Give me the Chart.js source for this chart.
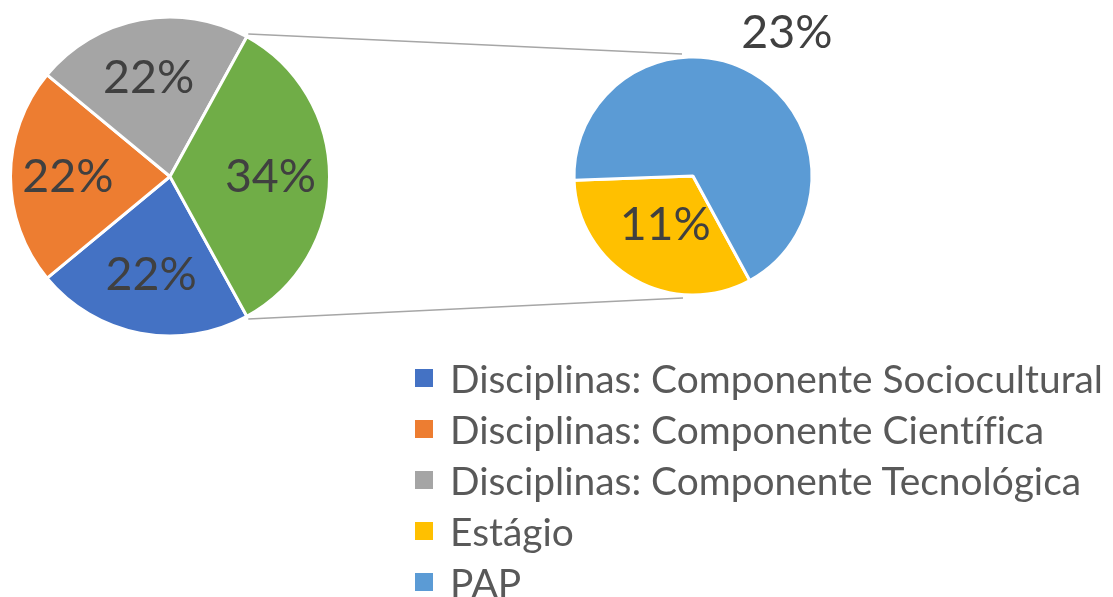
<!DOCTYPE html>
<html>
<head>
<meta charset="utf-8">
<script src="https://cdn.jsdelivr.net/npm/chart.js@4.4.1/dist/chart.umd.min.js"></script>
<style>
    html, body { margin: 0; padding: 0; background: #fff; }
    #wrap { position: relative; width: 1113px; height: 597px; overflow: hidden; }
    #mainCanvas { position: absolute; left: 0; top: 0; }
    #subCanvas { position: absolute; left: 543px; top: 0; }
    #legend {
        position: absolute; left: 415px; top: 352px;
        margin: 0; padding: 0; list-style: none;
        font-family: Lato, "Open Sans", sans-serif; font-size: 38.9px; color: #595959;
        font-variant-ligatures: none;
    }
    #legend li { height: 51px; display: flex; align-items: center; white-space: nowrap; }
    #legend .box { width: 18px; height: 18px; margin-right: 17px; flex: none; }
</style>
</head>
<body>
<div id="wrap">
    <canvas id="mainCanvas" width="1113" height="597"></canvas>
    <canvas id="subCanvas" width="300" height="352"></canvas>
    <ul id="legend"></ul>
</div>
<script>
// main pie: three subjects + the "other" slice that is split out
const mainLabels = ['Disciplinas: Componente Sociocultural', 'Disciplinas: Componente Científica', 'Disciplinas: Componente Tecnológica', 'Outros'];
const mainValues = [22, 22, 22, 34];
const mainColors = ['#4472C4', '#ED7D31', '#A5A5A5', '#70AD47'];

// second pie: breakdown of the "other" slice
const subLabels = ['Estágio', 'PAP'];
const subValues = [11, 23];
const subColors = ['#FFC000', '#5B9BD5'];

const labelFont = '46.5px Lato, "Open Sans", sans-serif';

// draws the "NN%" labels at a given fraction of the radius
const pctLabels = {
    id: 'pctLabels',
    afterDatasetsDraw(chart, args, opts) {
        const ctx = chart.ctx;
        const meta = chart.getDatasetMeta(0);
        const values = chart.data.datasets[0].data;
        ctx.save();
        ctx.font = labelFont;
        ctx.fillStyle = '#404040';
        ctx.textAlign = 'center';
        ctx.textBaseline = 'middle';
        meta.data.forEach((arc, i) => {
            const shift = (opts.shifts ? opts.shifts[i] : 0) * Math.PI / 180;
            const mid = (arc.startAngle + arc.endAngle) / 2 + shift;
            const r = arc.outerRadius * opts.factors[i];
            ctx.fillText(values[i] + '%', arc.x + r * Math.cos(mid), arc.y + r * Math.sin(mid));
        });
        ctx.restore();
    }
};

// grey lines from the split slice to the top / bottom of the second pie
const connectors = {
    id: 'connectors',
    afterDraw(chart) {
        const sub = Chart.getChart('subCanvas');
        if (!sub) return;
        const subCanvas = document.getElementById('subCanvas');
        const dx = subCanvas.offsetLeft - chart.canvas.offsetLeft;
        const dy = subCanvas.offsetTop - chart.canvas.offsetTop;
        const subArc = sub.getDatasetMeta(0).data[0];
        const sx = subArc.x + dx;
        const sy = subArc.y + dy;
        const sr = subArc.outerRadius;

        const arc = chart.getDatasetMeta(0).data[3];
        const r = arc.outerRadius + 3;
        const ctx = chart.ctx;
        ctx.save();
        ctx.strokeStyle = '#A6A6A6';
        ctx.lineWidth = 1.5;
        ctx.beginPath();
        ctx.moveTo(arc.x + r * Math.cos(arc.startAngle), arc.y + r * Math.sin(arc.startAngle));
        ctx.lineTo(sx - 11, sy - sr - 3);
        ctx.moveTo(arc.x + r * Math.cos(arc.endAngle), arc.y + r * Math.sin(arc.endAngle));
        ctx.lineTo(sx - 10, sy + sr + 3);
        ctx.stroke();
        ctx.restore();
    }
};

const baseOptions = {
    responsive: false,
    animation: false,
    events: [],
    plugins: {
        legend: { display: false },
        tooltip: { enabled: false }
    }
};

new Chart(document.getElementById('subCanvas'), {
    type: 'pie',
    data: {
        labels: subLabels,
        datasets: [{
            data: subValues,
            backgroundColor: subColors,
            borderColor: '#fff',
            borderWidth: 3
        }]
    },
    options: {
        ...baseOptions,
        rotation: 151.5,
        radius: 119,
        plugins: { ...baseOptions.plugins, pctLabels: { factors: [0.47, 1.44], shifts: [0, 3.5] } }
    },
    plugins: [pctLabels]
});

new Chart(document.getElementById('mainCanvas'), {
    type: 'pie',
    data: {
        labels: mainLabels,
        datasets: [{
            data: mainValues,
            backgroundColor: mainColors,
            borderColor: '#fff',
            borderWidth: 3
        }]
    },
    options: {
        ...baseOptions,
        rotation: 151.2,
        radius: 159.5,
        layout: { padding: { left: 0, top: 0, right: 773, bottom: 244 } },
        plugins: { ...baseOptions.plugins, pctLabels: { factors: [0.63, 0.64, 0.63, 0.63], shifts: [0, 0, -1.5, 0] } }
    },
    plugins: [pctLabels, connectors]
});

// html legend: the three subjects, then the two parts of the second pie
const legendItems = mainLabels.slice(0, 3).map((t, i) => [t, mainColors[i]])
    .concat(subLabels.map((t, i) => [t, subColors[i]]));
const legendEl = document.getElementById('legend');
legendItems.forEach(([text, color]) => {
    const li = document.createElement('li');
    li.innerHTML = '<span class="box" style="background:' + color + '"></span><span>' + text + '</span>';
    legendEl.appendChild(li);
});
</script>
</body>
</html>
